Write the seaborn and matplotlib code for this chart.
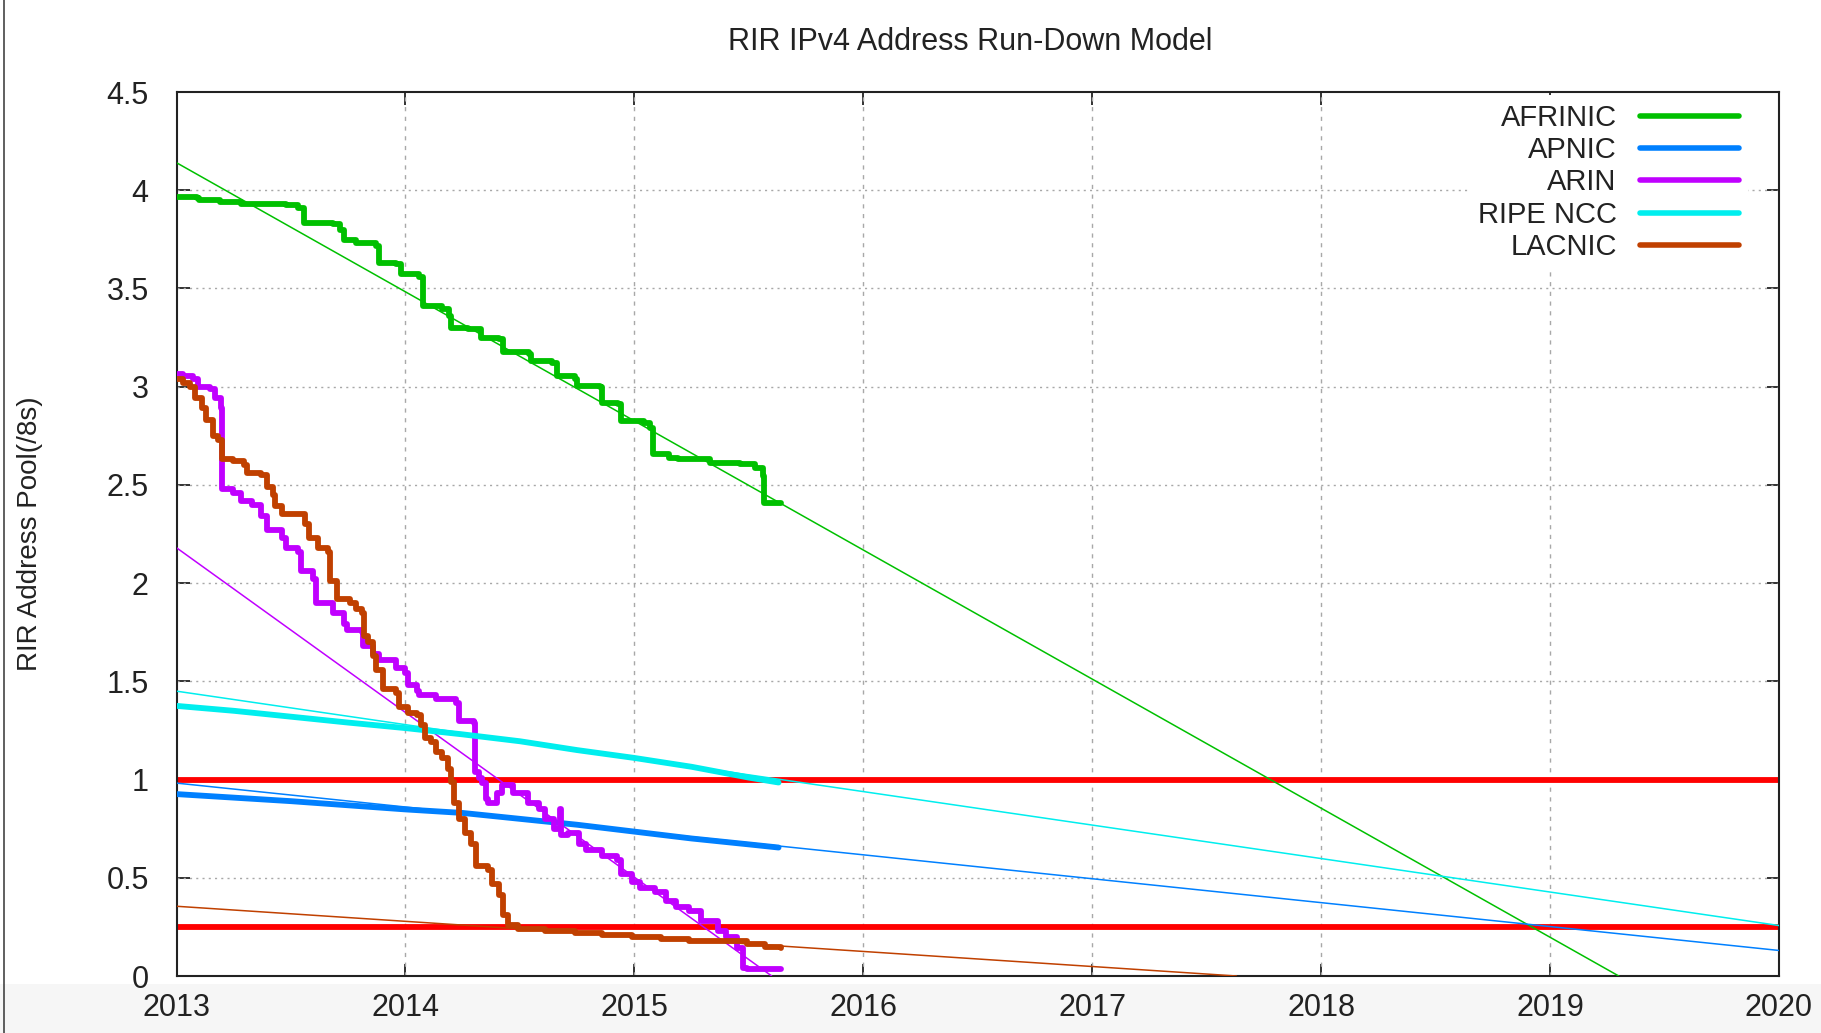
import matplotlib
matplotlib.use("Agg")
import matplotlib.pyplot as plt
import matplotlib.ticker as ticker
from matplotlib.lines import Line2D
from matplotlib.patches import Rectangle
import seaborn as sns

# ── DATA (decimal year, pool size in /8s) ─────────────────
AFRINIC_X = [2013.00, 2013.09, 2013.10, 2013.19, 2013.28, 2013.48, 2013.53, 2013.555,
             2013.685, 2013.715, 2013.73, 2013.785, 2013.87, 2013.885, 2013.96, 2013.98,
             2014.06, 2014.075, 2014.16, 2014.19, 2014.20, 2014.275, 2014.33, 2014.41,
             2014.425, 2014.54, 2014.55, 2014.64, 2014.66, 2014.74, 2014.75, 2014.85,
             2014.86, 2014.93, 2014.94, 2015.04, 2015.07, 2015.08, 2015.15, 2015.19,
             2015.33, 2015.46, 2015.525, 2015.56, 2015.565, 2015.64]
AFRINIC_Y = [3.966, 3.958, 3.949, 3.941, 3.932, 3.924, 3.907, 3.832,
             3.827, 3.800, 3.747, 3.730, 3.717, 3.632, 3.623, 3.572,
             3.559, 3.411, 3.394, 3.360, 3.300, 3.292, 3.250, 3.242,
             3.174, 3.165, 3.131, 3.123, 3.055, 3.038, 3.004, 2.999,
             2.919, 2.911, 2.826, 2.817, 2.792, 2.656, 2.639, 2.630,
             2.613, 2.605, 2.588, 2.546, 2.410, 2.407]

ARIN_X = [2013.00, 2013.03, 2013.07, 2013.095, 2013.145, 2013.17, 2013.195, 2013.20,
          2013.245, 2013.28, 2013.33, 2013.37, 2013.395, 2013.46, 2013.48, 2013.53,
          2013.545, 2013.595, 2013.61, 2013.685, 2013.73, 2013.745, 2013.81, 2013.815,
          2013.86, 2013.885, 2013.96, 2014.00, 2014.01, 2014.05, 2014.06, 2014.135,
          2014.22, 2014.235, 2014.30, 2014.305, 2014.32, 2014.335, 2014.35, 2014.36,
          2014.40, 2014.42, 2014.47, 2014.535, 2014.585, 2014.61, 2014.65, 2014.675,
          2014.68, 2014.71, 2014.76, 2014.79, 2014.86, 2014.925, 2014.94, 2014.99,
          2015.025, 2015.09, 2015.14, 2015.18, 2015.24, 2015.29, 2015.365, 2015.40,
          2015.45, 2015.475, 2015.49, 2015.64]
ARIN_Y = [3.064, 3.055, 3.040, 3.000, 2.990, 2.940, 2.890, 2.480,
          2.460, 2.420, 2.400, 2.340, 2.270, 2.230, 2.180, 2.160,
          2.060, 2.020, 1.900, 1.850, 1.790, 1.760, 1.750, 1.680,
          1.640, 1.610, 1.570, 1.540, 1.480, 1.450, 1.430, 1.410,
          1.390, 1.300, 1.290, 1.040, 1.010, 0.980, 0.900, 0.880,
          0.930, 0.970, 0.930, 0.880, 0.850, 0.800, 0.750, 0.850,
          0.720, 0.730, 0.670, 0.640, 0.610, 0.590, 0.520, 0.480,
          0.450, 0.430, 0.380, 0.350, 0.330, 0.280, 0.230, 0.200,
          0.140, 0.040, 0.035, 0.035]

LACNIC_X = [2013.00, 2013.03, 2013.06, 2013.08, 2013.11, 2013.13, 2013.16, 2013.18,
            2013.20, 2013.245, 2013.295, 2013.31, 2013.37, 2013.395, 2013.42, 2013.43,
            2013.46, 2013.56, 2013.58, 2013.62, 2013.66, 2013.67, 2013.70, 2013.76,
            2013.785, 2013.81, 2013.82, 2013.835, 2013.86, 2013.87, 2013.90, 2013.96,
            2013.97, 2014.01, 2014.05, 2014.07, 2014.085, 2014.11, 2014.135, 2014.16,
            2014.185, 2014.20, 2014.21, 2014.235, 2014.26, 2014.285, 2014.31, 2014.36,
            2014.38, 2014.41, 2014.425, 2014.45, 2014.49, 2014.61, 2014.74, 2014.86,
            2014.99, 2015.115, 2015.24, 2015.365, 2015.49, 2015.57, 2015.64]
LACNIC_Y = [3.040, 3.020, 3.000, 2.940, 2.890, 2.830, 2.750, 2.730,
            2.630, 2.620, 2.600, 2.560, 2.550, 2.490, 2.450, 2.390,
            2.350, 2.300, 2.230, 2.180, 2.160, 2.010, 1.920, 1.900,
            1.870, 1.850, 1.730, 1.700, 1.630, 1.560, 1.460, 1.440,
            1.370, 1.340, 1.330, 1.280, 1.210, 1.190, 1.140, 1.110,
            1.055, 0.990, 0.880, 0.800, 0.730, 0.670, 0.560, 0.540,
            0.470, 0.410, 0.310, 0.260, 0.240, 0.230, 0.220, 0.210,
            0.200, 0.190, 0.180, 0.176, 0.164, 0.150, 0.140]

RIPE_X = [2013.00, 2013.25, 2013.50, 2013.75, 2014.00, 2014.25, 2014.50, 2014.75,
          2015.00, 2015.25, 2015.50, 2015.63]
RIPE_Y = [1.375, 1.350, 1.320, 1.290, 1.262, 1.230, 1.195, 1.150,
          1.110, 1.065, 1.010, 0.985]

APNIC_X = [2013.00, 2013.50, 2014.00, 2014.25, 2014.50, 2014.75, 2015.00, 2015.25,
           2015.50, 2015.63]
APNIC_Y = [0.926, 0.890, 0.848, 0.830, 0.800, 0.770, 0.735, 0.700,
           0.670, 0.654]

# run-down model projections (start / end points)
AFRINIC_FIT_X = [2013.0, 2019.30]
AFRINIC_FIT_Y = [4.14, 0.0]
ARIN_FIT_X = [2013.0, 2015.60]
ARIN_FIT_Y = [2.18, 0.0]
RIPE_FIT_X = [2013.0, 2020.0]
RIPE_FIT_Y = [1.45, 0.257]
APNIC_FIT_X = [2013.0, 2020.0]
APNIC_FIT_Y = [0.982, 0.130]
LACNIC_FIT_X = [2013.0, 2017.63]
LACNIC_FIT_Y = [0.355, 0.0]

THRESHOLDS = [1.0, 0.25]

YEARS = [2013, 2014, 2015, 2016, 2017, 2018, 2019, 2020]
YTICKS = [0, 0.5, 1, 1.5, 2, 2.5, 3, 3.5, 4, 4.5]

COLOURS = {
    "AFRINIC":  "#00c000",
    "APNIC":    "#0080ff",
    "ARIN":     "#c000ff",
    "RIPE NCC": "#00eeee",
    "LACNIC":   "#c04000",
}
# ─────────────────────────────────────────────────────────

sns.set_theme(style="white")
plt.rcParams["font.family"] = ["Liberation Sans", "DejaVu Sans"]
plt.rcParams["text.color"] = "#222222"

W, H = 1821, 1033
FS = 22
fig = plt.figure(figsize=(W / 100, H / 100), dpi=100)
fig.patch.set_facecolor("white")

# light grey strip under the plot + left window edge (screenshot look)
fig.patches.append(Rectangle((0, 0), 1, 49 / H, transform=fig.transFigure,
                             facecolor="#f6f6f6", edgecolor="none", zorder=-5))
fig.lines.append(Line2D([3.5 / W, 3.5 / W], [0, 1], transform=fig.transFigure,
                        color="#444444", lw=1.2, zorder=-4))

L, R, T, B = 176.5, 1779, 92, 976
ax = fig.add_axes([L / W, (H - B) / H, (R - L) / W, (B - T) / H])
ax.set_facecolor("white")

for th in THRESHOLDS:
    ax.axhline(th, color="#ff0000", lw=4.2, zorder=2)

fits = [
    (AFRINIC_FIT_X, AFRINIC_FIT_Y, "AFRINIC"),
    (APNIC_FIT_X, APNIC_FIT_Y, "APNIC"),
    (ARIN_FIT_X, ARIN_FIT_Y, "ARIN"),
    (RIPE_FIT_X, RIPE_FIT_Y, "RIPE NCC"),
    (LACNIC_FIT_X, LACNIC_FIT_Y, "LACNIC"),
]
for xs, ys, name in fits:
    sns.lineplot(x=xs, y=ys, ax=ax, color=COLOURS[name], lw=1.1,
                 sort=False, estimator=None, zorder=3)

actuals = [
    (AFRINIC_X, AFRINIC_Y, "AFRINIC", "steps-post"),
    (APNIC_X, APNIC_Y, "APNIC", "default"),
    (ARIN_X, ARIN_Y, "ARIN", "steps-post"),
    (RIPE_X, RIPE_Y, "RIPE NCC", "default"),
    (LACNIC_X, LACNIC_Y, "LACNIC", "steps-post"),
]
for xs, ys, name, ds in actuals:
    sns.lineplot(x=xs, y=ys, ax=ax, color=COLOURS[name], lw=4.2,
                 drawstyle=ds, sort=False, estimator=None, label=name,
                 zorder=4)

ax.set_xlim(2013, 2020)
ax.set_ylim(0, 4.5)
ax.set_xticks(YEARS)
ax.set_yticks(YTICKS)
ax.yaxis.set_major_formatter(ticker.FuncFormatter(lambda v, p: f"{v:g}"))
ax.tick_params(axis="both", direction="in", length=9, width=1.3,
               colors="#222222", labelsize=FS, top=True, right=True,
               bottom=True, left=True)
ax.tick_params(axis="x", pad=12)
ax.tick_params(axis="y", pad=20)
for lab in ax.get_xticklabels() + ax.get_yticklabels():
    lab.set_color("#222222")

ax.grid(False)
for yr in YEARS[1:-1]:
    ax.axvline(yr, color="#a8a8a8", lw=1.0, ls=(0, (3, 4)), zorder=1)
for v in YTICKS[1:-1]:
    ax.axhline(v, color="#a8a8a8", lw=1.0, ls=(0, (1.5, 3)), zorder=1)

for s in ax.spines.values():
    s.set_color("#222222")
    s.set_linewidth(1.5)
    s.set_visible(True)

ax.set_xlabel("")
ax.set_ylabel("")
fig.text(970 / W, 1 - 42 / H, "RIR IPv4 Address Run-Down Model",
         ha="center", va="center", fontsize=FS, color="#222222")
fig.text(30 / W, 1 - 534 / H, "RIR Address Pool(/8s)", rotation=90,
         ha="center", va="center", fontsize=20, color="#222222")

leg = ax.legend(loc="upper right", bbox_to_anchor=((1748 - L) / (R - L), (B - 95) / (B - T)),
                markerfirst=False, frameon=True, fontsize=21, handlelength=3.4,
                handletextpad=0.8, labelspacing=0.15, borderpad=0.3,
                borderaxespad=0.0, fancybox=False)
leg.get_frame().set_facecolor("white")
leg.get_frame().set_edgecolor("none")
leg.get_frame().set_alpha(1.0)
for line in leg.get_lines():
    line.set_linewidth(4.0)
leg.set_zorder(5)

fig.savefig("out.png", dpi=100, facecolor=fig.get_facecolor())
